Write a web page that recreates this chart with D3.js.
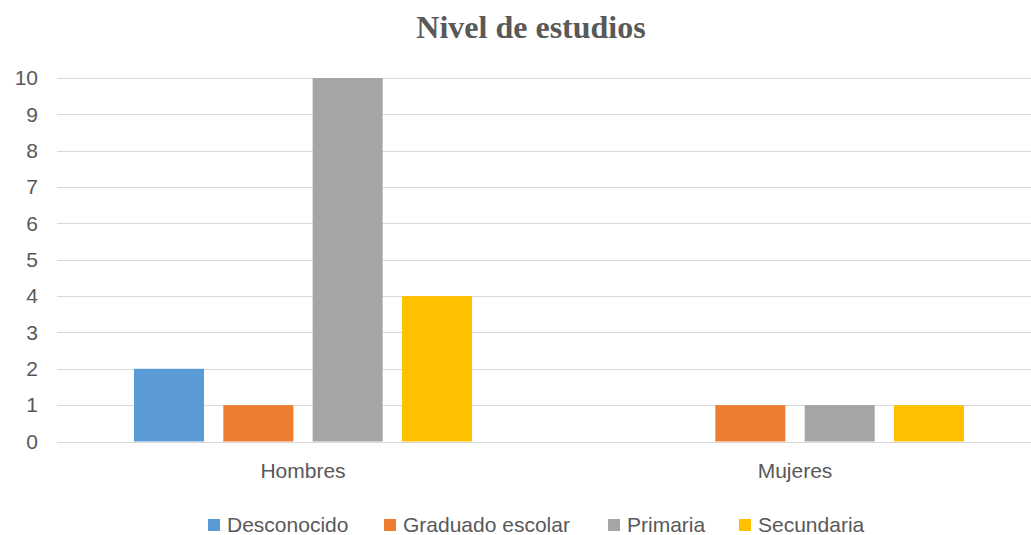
<!DOCTYPE html>
<html>
<head>
<meta charset="utf-8">
<script src="https://cdn.jsdelivr.net/npm/d3@7"></script>
<style>
  html, body { margin: 0; padding: 0; background: #fff; overflow: hidden; }
  svg { display: block; }
  .tick text { font-family: "Liberation Sans", sans-serif; }
</style>
</head>
<body>
<script>
// Chart data
const categories = ["Hombres", "Mujeres"];
const series = ["Desconocido", "Graduado escolar", "Primaria", "Secundaria"];
const desconocido = [2, 0];
const graduadoEscolar = [1, 1];
const primaria = [10, 1];
const secundaria = [4, 1];
const yTicks = [0, 1, 2, 3, 4, 5, 6, 7, 8, 9, 10];
const colors = ["#5B9BD5", "#ED7D31", "#A5A5A5", "#FFC000"];

const seriesValues = [desconocido, graduadoEscolar, primaria, secundaria];

const W = 1031, H = 535;
const textColor = "#595959";
const labelFont = "'Liberation Sans', sans-serif";
const labelSize = "21px";

const svg = d3.select("body").append("svg")
  .attr("width", W).attr("height", H);

// Scales
const plotLeft = 57, plotTop = 78, plotBottom = 441.5;
const x0 = d3.scaleBand().domain(categories).range([plotLeft, plotLeft + 984]);
const x1 = d3.scaleBand().domain(series).range([77, 415]).paddingInner(0.216);
const y = d3.scaleLinear().domain([0, 10]).range([plotBottom, plotTop]);

// Gridlines
svg.append("g")
  .selectAll("line")
  .data(yTicks)
  .join("line")
  .attr("x1", plotLeft).attr("x2", W)
  .attr("y1", d => Math.round(y(d)) + 0.5)
  .attr("y2", d => Math.round(y(d)) + 0.5)
  .attr("stroke", "#D9D9D9")
  .attr("stroke-width", 1.2);

// Y axis labels
const yAxis = svg.append("g")
  .attr("transform", `translate(${plotLeft - 19},0)`)
  .call(d3.axisLeft(y).tickValues(yTicks).tickSize(0).tickPadding(0).tickFormat(d3.format("d")));
yAxis.select(".domain").remove();
yAxis.selectAll("text")
  .attr("fill", textColor)
  .style("font-size", labelSize);

// Bars
const groups = svg.append("g")
  .selectAll("g")
  .data(categories)
  .join("g")
  .attr("transform", d => `translate(${x0(d)},0)`);

groups.selectAll("rect")
  .data((c, ci) => series.map((s, si) => ({ s, si, v: seriesValues[si][ci] })))
  .join("rect")
  .filter(d => d.v > 0)
  .attr("x", d => x1(d.s))
  .attr("width", x1.bandwidth())
  .attr("y", d => y(d.v))
  .attr("height", d => y(0) - y(d.v))
  .attr("fill", d => colors[d.si]);

// Category axis labels
const xAxis = svg.append("g")
  .attr("transform", `translate(0,${plotBottom})`)
  .call(d3.axisBottom(x0).tickSize(0).tickPadding(22));
xAxis.select(".domain").remove();
xAxis.selectAll("text")
  .attr("fill", textColor)
  .style("font-size", labelSize);

// Title
svg.append("text")
  .attr("x", 531).attr("y", 38)
  .attr("text-anchor", "middle")
  .attr("fill", textColor)
  .style("font-family", "'Liberation Serif', 'Times New Roman', serif")
  .style("font-weight", "bold")
  .style("font-size", "32px")
  .text("Nivel de estudios");

// Legend
const legendX = [208, 384, 608, 739];
const legend = svg.append("g")
  .selectAll("g")
  .data(series)
  .join("g")
  .attr("transform", (d, i) => `translate(${legendX[i]},519)`);
legend.append("rect")
  .attr("width", 12).attr("height", 12)
  .attr("fill", (d, i) => colors[i]);
legend.append("text")
  .attr("x", 19).attr("y", 13)
  .attr("fill", textColor)
  .style("font-family", labelFont)
  .style("font-size", labelSize)
  .text(d => d);
</script>
</body>
</html>
